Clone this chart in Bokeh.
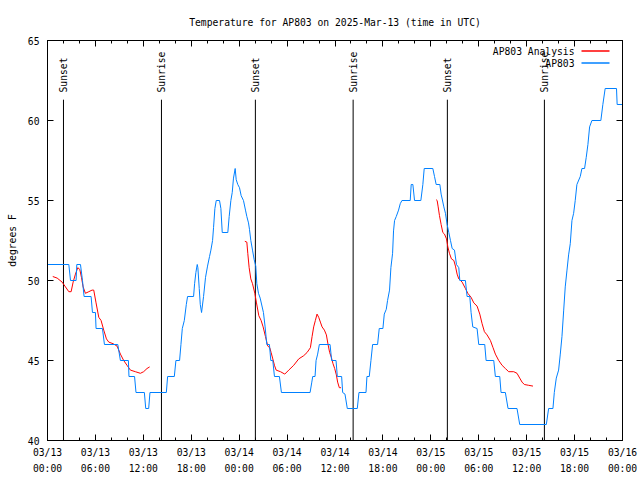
from math import pi
from bokeh.plotting import figure
from bokeh.models import FixedTicker, LinearAxis, Label, Arrow, Range1d, ColumnDataSource
from bokeh.embed import file_html
from bokeh.resources import INLINE
from bokeh.core.properties import value

# ---------------- data (hours since 2025-03-13 00:00 UTC) ----------------
x_tick_labels = ["03/13\n00:00", "03/13\n06:00", "03/13\n12:00", "03/13\n18:00",
                 "03/14\n00:00", "03/14\n06:00", "03/14\n12:00", "03/14\n18:00",
                 "03/15\n00:00", "03/15\n06:00", "03/15\n12:00", "03/15\n18:00",
                 "03/16\n00:00"]
y_ticks = [40, 45, 50, 55, 60, 65]

sun_hours = [2.0, 14.27, 26.03, 38.27, 50.07, 62.22]
sun_labels = ["Sunset", "Sunrise", "Sunset", "Sunrise", "Sunset", "Sunrise"]

blue_h = [0.0, 2.67, 2.88, 3.58, 3.67, 4.13, 4.38, 4.58, 5.46, 5.63, 6.0, 6.08, 6.88, 7.13,
          8.8, 9.13, 10.13, 10.2, 10.9, 11.08, 12.13, 12.3, 12.67, 12.83, 14.88, 15.04,
          15.88, 16.08, 16.54, 16.71, 16.88, 17.13, 17.38, 17.54, 18.29, 18.42, 18.58, 18.75,
          18.83, 19.0, 19.13, 19.29, 19.54, 19.79, 20.04, 20.29, 20.46, 20.67, 20.79, 20.96,
          21.13, 21.54, 21.71, 21.88, 22.58, 22.75, 22.96, 23.13, 23.29, 23.5, 23.63, 23.83,
          24.04, 24.25, 24.54, 24.79, 24.96, 25.17, 25.29, 25.46, 25.67, 25.88, 26.08, 26.21,
          26.42, 26.63, 27.04, 27.25, 27.46, 27.79, 27.96, 28.21, 28.42, 29.04, 29.29, 32.88,
          33.08, 33.21, 33.5, 33.63, 33.83, 34.04, 35.38, 35.58, 36.13, 36.29, 36.83, 36.96,
          37.25, 37.54, 38.79, 39.0, 39.88, 40.0, 40.29, 40.5, 40.71, 41.33, 41.54, 42.0,
          42.17, 42.42, 42.58, 42.83, 43.0, 43.21, 43.33, 43.46, 43.67, 43.96, 44.17, 44.38,
          45.42, 45.54, 45.75, 45.96, 46.75, 47.0, 47.17, 48.25, 48.46, 48.67, 49.13, 49.29,
          49.63, 49.83, 50.04, 50.25, 50.46, 50.67, 50.96, 51.21, 51.5, 51.63, 52.33, 52.54,
          52.88, 53.04, 53.25, 53.79, 54.0, 54.75, 54.92, 55.88, 56.08, 56.63, 56.79, 57.33,
          57.67, 58.79, 59.13, 62.46, 62.75, 63.29, 63.46, 63.71, 64.0, 64.21, 64.42, 64.63,
          64.83, 65.04, 65.25, 65.46, 65.67, 65.88, 66.08, 66.29, 66.71, 66.92, 67.25, 67.46,
          67.67, 67.88, 68.17, 69.29, 69.54, 69.83, 71.25, 71.33, 72.0]
blue_v = [51, 51, 50, 50, 51, 51, 50, 49, 49, 48, 48, 47, 47, 46,
          46, 45, 45, 44, 44, 43, 43, 42, 42, 43, 43, 44,
          44, 45, 45, 46, 47, 47.5, 48.5, 49, 49, 49.8, 50.5, 51,
          50.8, 49.5, 48.5, 48, 49, 50.2, 50.9, 51.5, 51.9, 52.5, 53.3, 54.5,
          55, 55, 54.5, 53, 53, 54, 55, 55.5, 56.4, 57, 56.3, 56,
          55.8, 55.3, 55, 54.4, 54, 53.6, 53.2, 52.5, 51.9, 51.3, 50.9, 49.8,
          49.2, 48.9, 48, 47.1, 46, 46, 45, 45, 44, 44, 43, 43,
          43.6, 44, 44, 45, 45.4, 46, 46, 45, 45, 44, 44, 43,
          42.9, 42, 42, 43, 43, 44, 44, 45, 46, 46, 47, 47,
          47.9, 48.2, 48.75, 49.4, 50.8, 51.7, 53.1, 53.75, 54, 54.4, 54.8, 55,
          55, 56, 56, 55, 55, 56, 57, 57, 56.5, 56, 56, 55.4,
          54.6, 54.2, 53.5, 53, 52.5, 52, 51.9, 51, 50.8, 50, 50, 49,
          49, 48, 47.1, 47, 46, 46, 45, 45, 44, 44, 43, 43,
          42, 42, 41, 41, 42, 42, 43, 43.9, 44.4, 45.4, 46.5, 48.1,
          49.6, 50.6, 51.6, 52.3, 53.75, 54.2, 55, 56, 56.5, 57, 57, 57.7,
          58.5, 59.6, 60, 60, 61, 62, 62, 61, 61]

red_h1 = [0.66, 1.21, 1.83, 2.25, 2.67, 2.96, 3.21, 3.5, 3.79, 4.04, 4.25, 4.46, 4.75, 5.17,
          5.58, 5.79, 6.08, 6.42, 6.71, 7.04, 7.38, 7.67, 8.21, 8.71, 9.13, 9.54, 9.96, 10.38,
          11.0, 11.63, 12.04, 12.46, 12.79]
red_v1 = [50.25, 50.15, 49.9, 49.6, 49.3, 49.3, 49.9, 50.4, 50.8, 50.7, 50.2, 49.6, 49.2, 49.3,
          49.4, 49.4, 48.6, 47.7, 47.5, 46.9, 46.35, 46.15, 46.05, 45.9, 45.4, 45.0, 44.7, 44.4,
          44.3, 44.2, 44.3, 44.5, 44.6]
red_h2 = [24.71, 24.96, 25.08, 25.25, 25.46, 25.67, 25.96, 26.17, 26.46, 26.75, 27.0, 27.29,
          27.58, 27.83, 28.0, 28.21, 28.42, 28.63, 29.17, 29.71, 30.21, 30.83, 31.46, 32.08,
          32.5, 32.92, 33.13, 33.33, 33.54, 33.75, 33.96, 34.17, 34.38, 34.67, 34.92, 35.13,
          35.33, 35.54, 35.75, 35.96, 36.17, 36.33, 36.54, 36.75]
red_v2 = [52.45, 52.4, 51.7, 50.8, 50.1, 49.8, 49.2, 48.6, 47.8, 47.5, 47.1, 46.5,
          45.9, 45.8, 45.5, 45.1, 44.7, 44.4, 44.3, 44.15, 44.4, 44.7, 45.1, 45.3,
          45.5, 45.8, 46.5, 47.1, 47.5, 47.9, 47.7, 47.4, 47.1, 46.9, 46.6, 46.0,
          45.5, 45.2, 44.8, 44.5, 44.1, 43.65, 43.3, 43.3]
red_h3 = [48.67, 48.79, 48.92, 49.08, 49.29, 49.5, 49.71, 49.96, 50.13, 50.33, 50.58, 50.88,
          51.08, 51.29, 51.5, 51.92, 52.33, 52.63, 53.04, 53.38, 53.79, 54.13, 54.42, 54.71,
          55.04, 55.46, 55.79, 56.08, 56.5, 56.92, 57.33, 57.75, 58.38, 58.79, 59.13, 59.42,
          59.71, 60.25, 60.79]
red_v3 = [55.05, 55.0, 54.6, 54.06, 53.5, 53.0, 52.9, 52.6, 52.1, 51.7, 51.35, 51.25,
          50.9, 50.4, 50.1, 49.9, 49.5, 49.2, 48.95, 48.6, 48.4, 47.9, 47.3, 46.8,
          46.6, 46.25, 45.8, 45.4, 45.0, 44.7, 44.5, 44.3, 44.3, 44.2, 43.9, 43.65,
          43.5, 43.45, 43.4]

# ---------------- styling ----------------
FONT = "DejaVu Sans Mono"
FS = "9.7px"
BLUE = "#0080ff"
RED = "#ff0000"

x_ticks = [6 * i for i in range(len(x_tick_labels))]
x_minor = [2 * i for i in range(37)]

p = figure(width=640, height=480, x_range=Range1d(0, 72), y_range=Range1d(40, 65),
           output_backend="svg", toolbar_location=None,
           title="Temperature for AP803 on 2025-Mar-13 (time in UTC)",
           min_border_left=47, min_border_right=18, min_border_top=40, min_border_bottom=40)
p.title.align = "center"
p.title.text_font = FONT
p.title.text_font_size = FS
p.title.text_font_style = "normal"
p.title.text_color = "black"
p.title.standoff = 26
p.grid.visible = False
p.outline_line_color = "black"
p.outline_line_width = 1
p.background_fill_color = "white"
p.border_fill_color = "white"

xa = p.xaxis[0]
xa.ticker = FixedTicker(ticks=x_ticks, minor_ticks=x_minor)
xa.major_label_overrides = {t: l for t, l in zip(x_ticks, x_tick_labels)}
ya = p.yaxis[0]
ya.ticker = FixedTicker(ticks=y_ticks, minor_ticks=[])
ya.axis_label = "degrees F"
ya.axis_label_text_font = FONT
ya.axis_label_text_font_size = FS
ya.axis_label_text_font_style = "normal"
ya.axis_label_text_color = "black"
ya.axis_label_standoff = 7

for ax in (xa, ya):
    ax.major_tick_in = 6
    ax.major_tick_out = 0
    ax.minor_tick_in = 3
    ax.minor_tick_out = 0
    ax.axis_line_color = "black"
    ax.major_tick_line_color = "black"
    ax.minor_tick_line_color = "black"
    ax.major_label_text_font = FONT
    ax.major_label_text_font_size = FS
    ax.major_label_text_color = "black"
xa.major_label_standoff = 6
xa.major_label_text_line_height = 1.5
ya.major_label_standoff = 8

top = LinearAxis(ticker=FixedTicker(ticks=x_ticks, minor_ticks=x_minor),
                 major_tick_in=6, major_tick_out=0, minor_tick_in=3, minor_tick_out=0,
                 major_label_text_font_size="0px", major_label_text_alpha=0,
                 major_label_standoff=0)
right = LinearAxis(ticker=FixedTicker(ticks=y_ticks, minor_ticks=[]),
                   major_tick_in=6, major_tick_out=0, minor_tick_in=0, minor_tick_out=0,
                   major_label_text_font_size="0px", major_label_text_alpha=0,
                   major_label_standoff=0)
p.add_layout(top, "above")
p.add_layout(right, "right")

# sunrise / sunset markers
sun_src = ColumnDataSource(dict(x=sun_hours, label=sun_labels))
p.segment(x0="x", y0=40, x1="x", y1=61.3, source=sun_src, line_color="black", line_width=1)
p.text(x="x", y=61.75, text="label", source=sun_src, angle=pi / 2,
       text_align="left", text_baseline="middle",
       text_font=value(FONT), text_font_size=FS, text_color="black")

# series
p.line(red_h1, red_v1, line_color=RED, line_width=1)
p.line(red_h2, red_v2, line_color=RED, line_width=1)
p.line(red_h3, red_v3, line_color=RED, line_width=1)
p.line(blue_h, blue_v, line_color=BLUE, line_width=1)

# legend (gnuplot style: text then line sample), screen units relative to plot frame
for i, (name, col) in enumerate([("AP803 Analysis", RED), ("AP803", BLUE)]):
    yy = 389 - 12 * i
    p.add_layout(Label(x=527, y=yy, x_units="screen", y_units="screen", text=name,
                       text_align="right", text_baseline="middle",
                       text_font=FONT, text_font_size=FS, text_color="black"))
    p.add_layout(Arrow(x_start=534, y_start=yy + 0.5, x_end=562, y_end=yy + 0.5,
                       start_units="screen", end_units="screen", end=None,
                       line_color=col, line_alpha=1.0, line_width=1.5))

open("out.html", "w").write(file_html(p, INLINE))
